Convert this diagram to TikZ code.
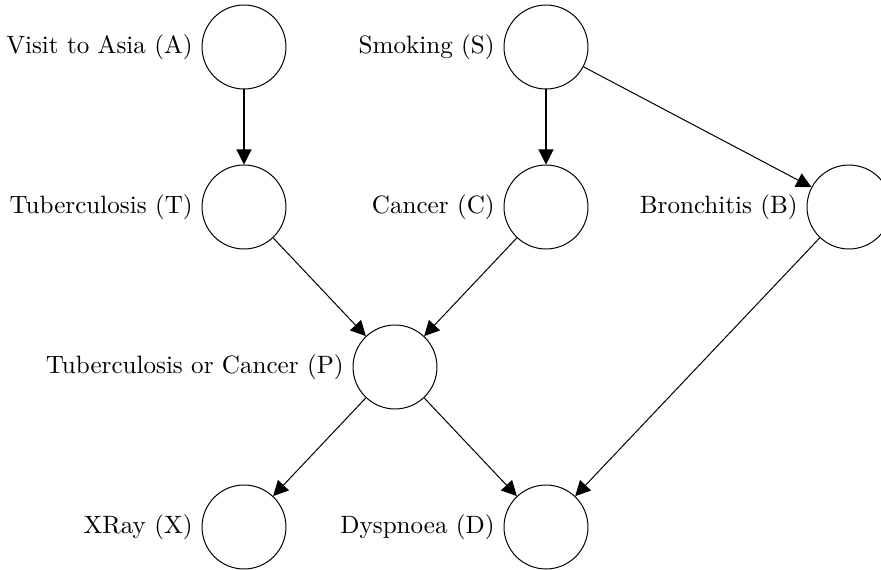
\documentclass[tikz,border=0pt]{standalone}
\usepackage{tikz}
\usetikzlibrary{arrows.meta, positioning}

\begin{document}
\begin{tikzpicture}[x=0.014cm, y=-0.014cm,
    var/.style={draw, circle, minimum size=1.176cm, inner sep=0pt},
    edge/.style={-{Triangle[length=6pt, width=6pt]}}]
    \useasboundingbox (0,0) rectangle (881,570);
    % variables of the network
    \node[var, label=left:Visit to Asia (A)] (asia) at (244,47) {};
    \node[var, label=left:Smoking (S)] (smoke) at (546,47) {};
    \node[var, label=left:Tuberculosis (T)] (tub) at (244,207) {};
    \node[var, label=left:Cancer (C)] (lung) at (546,207) {};
    \node[var, label=left:Bronchitis (B)] (bronc) at (849,207) {};
    \node[var, label=left:Tuberculosis or Cancer (P)] (either) at (395,367) {};
    \node[var, label=left:XRay (X)] (xray) at (244,527) {};
    \node[var, label=left:Dyspnoea (D)] (dysp) at (546,527) {};
    % dependencies
    \draw[edge] (asia) -- (tub);
    \draw[edge] (smoke) -- (lung);
    \draw[edge] (smoke) -- (bronc);
    \draw[edge] (tub) -- (either);
    \draw[edge] (lung) -- (either);
    \draw[edge] (either) -- (xray);
    \draw[edge] (either) -- (dysp);
    \draw[edge] (bronc) -- (dysp);
\end{tikzpicture}
\end{document}
